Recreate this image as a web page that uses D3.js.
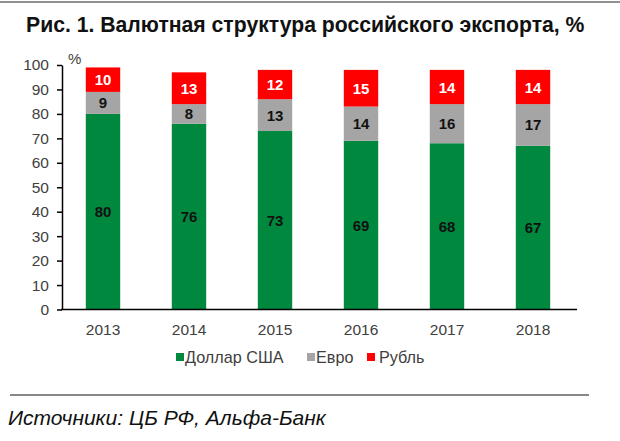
<!DOCTYPE html>
<html><head><meta charset="utf-8">
<script src="https://cdn.jsdelivr.net/npm/d3@7"></script>
<style>body{margin:0;background:#fff}svg{display:block}</style>
</head><body>
<svg id="c" width="620" height="441"></svg>
<script>
const years = ["2013","2014","2015","2016","2017","2018"];
const usd = [80,76,73,69,68,67];
const eur = [9,8,13,14,16,17];
const rub = [10,13,12,15,14,14];
const seriesNames = ["Доллар США","Евро","Рубль"];
const seriesColors = ["#00893E","#A5A5A5","#FF0000"];
const labelColors = ["#111","#111","#fff"];
const yTicks = [0,10,20,30,40,50,60,70,80,90,100];
const title = "Рис. 1. Валютная структура российского экспорта, %";
const source = "Источники: ЦБ РФ, Альфа-Банк";

const svg = d3.select("#c");
const F = "Arial, 'Liberation Sans', sans-serif";

const rows = years.map((y,i)=>({year:y, s0:usd[i], s1:eur[i], s2:rub[i]}));
const stack = d3.stack().keys(["s0","s1","s2"])(rows);

const x = d3.scaleBand().domain(years).range([60,576]).paddingInner(0.6).paddingOuter(0.3);
const y = d3.scaleLinear().domain([0,100]).range([309.5,65]);

// top rule
svg.append("line").attr("x1",0).attr("x2",620).attr("y1",2).attr("y2",2).attr("stroke","#222").attr("stroke-width",1);
// title
svg.append("text").attr("x",26).attr("y",32).attr("font-family",F).attr("font-weight","bold")
  .attr("font-size",21.2).attr("fill","#111").text(title);

// bars
const g = svg.append("g");
stack.forEach((layer,k)=>{
  g.selectAll(null).data(layer).enter().append("rect")
    .attr("x",d=>x(d.data.year)).attr("width",x.bandwidth())
    .attr("y",d=>y(d[1])).attr("height",d=>y(d[0])-y(d[1]))
    .attr("fill",seriesColors[k]);
});
stack.forEach((layer,k)=>{
  g.selectAll(null).data(layer).enter().append("text")
    .attr("x",d=>x(d.data.year)+x.bandwidth()/2)
    .attr("y",d=>(y(d[0])+y(d[1]))/2+5.5)
    .attr("text-anchor","middle").attr("font-family",F).attr("font-weight","bold")
    .attr("font-size",15).attr("fill",labelColors[k])
    .text(d=>d[1]-d[0]);
});

// y axis
const ya = svg.append("g").attr("transform","translate(62,0)")
  .call(d3.axisLeft(y).tickValues(yTicks).tickSize(5).tickPadding(8).tickSizeOuter(0));
ya.select(".domain").attr("stroke","#000").attr("stroke-width",1.5);
ya.selectAll(".tick line").attr("stroke","#000").attr("stroke-width",1.5);
ya.selectAll(".tick text").attr("font-family",F).attr("font-size",15.5).attr("fill","#404040");
svg.append("text").attr("x",68).attr("y",64).attr("font-family",F).attr("font-size",15).attr("fill","#404040").text("%");

// x axis
const xa = svg.append("g").attr("transform","translate(0,309.5)")
  .call(d3.axisBottom(x).tickSize(0).tickPadding(14));
xa.select(".domain").attr("d","M61,0H577").attr("stroke","#000").attr("stroke-width",1.5);
xa.selectAll(".tick text").attr("font-family",F).attr("font-size",15.5).attr("fill","#404040");

// legend
const leg = svg.append("g");
const legX = [176,307,367];
seriesNames.forEach((n,k)=>{
  leg.append("rect").attr("x",legX[k]).attr("y",353).attr("width",8).attr("height",8).attr("fill",seriesColors[k]);
  leg.append("text").attr("x",legX[k]+(k===2?12:9)).attr("y",363).attr("font-family",F).attr("font-size",16.2)
    .attr("fill","#404040").text(n);
});

// bottom rule + source
svg.append("line").attr("x1",10).attr("x2",589).attr("y1",395).attr("y2",395).attr("stroke","#111").attr("stroke-width",1);
svg.append("text").attr("x",8).attr("y",425).attr("font-family",F).attr("font-style","italic")
  .attr("font-size",21).attr("fill","#111").text(source);
</script>
</body></html>
